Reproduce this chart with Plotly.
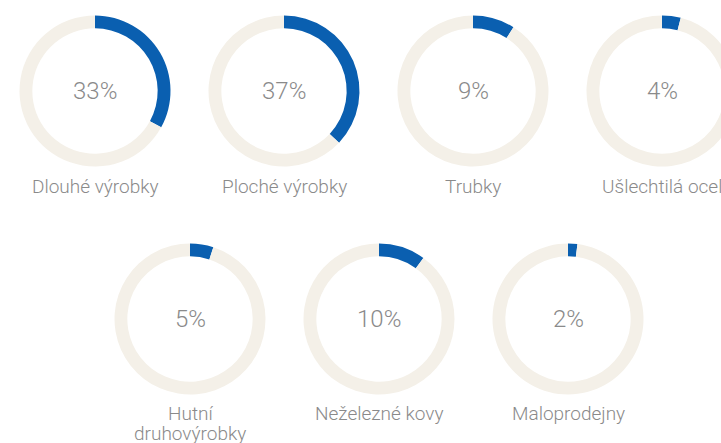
import plotly.graph_objects as go

categories = ["Dlouhé výrobky", "Ploché výrobky", "Trubky", "Ušlechtilá ocel",
              "Hutní<br>druhovýrobky", "Neželezné kovy", "Maloprodejny"]
shares = [33, 37, 9, 4, 5, 10, 2]

W, H = 760, 443
R = 75.5
centers = [(95, 91), (284, 91), (473, 91), (662, 91),
           (190, 319), (379, 319), (568, 319)]
label_y = [186, 186, 186, 186, 413, 413, 413]
LINE = 20

BLUE = "#0a5fb0"
TRACK = "#f4f0e8"
TEXT = "#8a8a8a"

fig = go.Figure()
ann = []
for i, (cat, v) in enumerate(zip(categories, shares)):
    cx, cy = centers[i]
    fig.add_trace(go.Pie(
        values=[v, 100 - v],
        sort=False, direction="clockwise", rotation=0,
        hole=0.83,
        marker=dict(colors=[BLUE, TRACK], line=dict(width=0)),
        textinfo="none", hoverinfo="skip", showlegend=False,
        domain=dict(x=[(cx - R) / W, (cx + R) / W],
                    y=[(H - cy - R) / H, (H - cy + R) / H]),
    ))
    ann.append(dict(x=cx / W, y=(H - cy) / H, xref="paper", yref="paper",
                    text=f"{v}%", showarrow=False, xanchor="center", yanchor="middle",
                    font=dict(family="Roboto", size=24, color=TEXT, weight=300)))
    for j, line in enumerate(cat.split("<br>")):
        ann.append(dict(x=cx / W, y=(H - label_y[i] - j * LINE) / H,
                        xref="paper", yref="paper",
                        text=line, showarrow=False, xanchor="center", yanchor="middle",
                        font=dict(family="Roboto", size=19, color=TEXT, weight=300)))

fig.update_layout(width=W, height=H, margin=dict(l=0, r=0, t=0, b=0),
                  paper_bgcolor="white", plot_bgcolor="white",
                  annotations=ann)

fig.write_html("out.html", config={"displayModeBar": False},
               post_script="document.body.style.margin='0';document.body.style.overflow='hidden';document.documentElement.style.overflow='hidden';")
